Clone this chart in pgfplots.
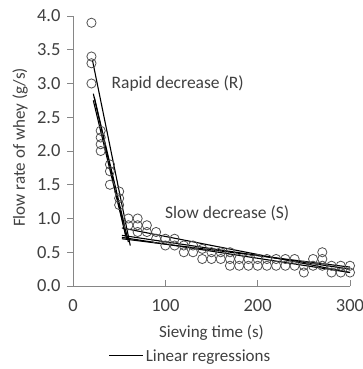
\documentclass[border=0pt]{standalone}
\usepackage{fontspec}
\setmainfont{Carlito}
\usepackage{pgfplots}
\pgfplotsset{compat=1.18}

\definecolor{axisgray}{RGB}{134,134,134}
\definecolor{txtgray}{RGB}{64,64,64}
\definecolor{circgray}{RGB}{80,80,80}

\begin{document}
\begin{tikzpicture}
\path[use as bounding box] (-73pt,-83pt) rectangle (290pt,286pt);
\begin{axis}[
    scale only axis,
    width=277pt,
    height=270pt,
    xmin=0, xmax=300,
    ymin=0, ymax=4,
    xtick={0,100,200,300},
    ytick={0,0.5,...,4.0},
    axis x line*=bottom,
    axis y line*=left,
    axis line style={axisgray, line width=0.8pt},
    x axis line style={-},
    y axis line style={-},
    tick style={axisgray, line width=0.8pt},
    xtick align=inside,
    ytick align=outside,
    major tick length=6pt,
    yticklabel style={/pgf/number format/fixed, /pgf/number format/fixed zerofill, /pgf/number format/precision=1, xshift=-3pt},
    xticklabel style={yshift=-10pt},
    /pgf/number format/assume math mode=true,
    tick label style={font=\fontsize{18.5}{22}\selectfont, text=txtgray},
    label style={font=\fontsize{17}{20}\selectfont, text=txtgray},
    xlabel={Sieving time (s)},
    ylabel={Flow rate of whey (g/s)},
    xlabel style={at={(axis description cs:0.5,-0.174)}, anchor=center},
    ylabel style={at={(axis description cs:-0.191,0.513)}, anchor=center},
    legend style={draw=none, at={(0.424,-0.259)}, anchor=center,
        font=\fontsize{17}{20}\selectfont, text=txtgray},
    legend image code/.code={\draw[#1] (-0.2cm,0cm) -- (1.0cm,0cm);},
    clip=false,
]

% measured flow rates (all runs)
\addplot[only marks, mark=o, mark size=4.6pt, circgray, mark options={line width=0.8pt}, forget plot] coordinates {
    (20,3.9) (20,3.4) (20,3.3) (20,3.0)
    (30,2.3) (30,2.2) (30,2.1) (30,2.0)
    (40,1.8) (40,1.7) (40,1.5)
    (50,1.4) (50,1.3) (50,1.2)
    (60,1.0) (60,0.9)
    (70,1.0) (70,0.9) (70,0.8)
    (80,0.9) (80,0.8)
    (90,0.8) (90,0.7)
    (100,0.7) (100,0.6)
    (110,0.7) (110,0.6)
    (120,0.6) (120,0.5)
    (130,0.6) (130,0.5)
    (140,0.55) (140,0.4)
    (150,0.5) (150,0.4)
    (160,0.4) (160,0.5)
    (170,0.5) (170,0.4) (170,0.3)
    (180,0.4) (180,0.3)
    (190,0.4) (190,0.3)
    (200,0.4) (200,0.3)
    (210,0.4) (210,0.3)
    (220,0.4) (220,0.3)
    (230,0.4) (230,0.3)
    (240,0.4) (240,0.3)
    (250,0.3) (250,0.2)
    (260,0.4) (260,0.3)
    (270,0.5) (270,0.4) (270,0.3)
    (280,0.3) (280,0.2)
    (290,0.3) (290,0.2)
    (300,0.3) (300,0.2)
};

% regressions, rapid phase
\addplot[black, line width=1.1pt, forget plot] coordinates {(21,3.35) (62,0.60)};
\addplot[black, line width=1.1pt, forget plot] coordinates {(22,2.85) (58,0.70)};
\addplot[black, line width=1.1pt, forget plot] coordinates {(23,2.80) (60,0.65)};
\addplot[black, line width=1.1pt, forget plot] coordinates {(22,2.75) (57,0.75)};
% regressions, slow phase
\addplot[black, line width=1.1pt, forget plot] coordinates {(53,0.86) (300,0.20)};
\addplot[black, line width=1.1pt, forget plot] coordinates {(53,0.75) (300,0.25)};
\addplot[black, line width=1.1pt, forget plot] coordinates {(53,0.72) (300,0.20)};
\addplot[black, line width=1.1pt, forget plot] coordinates {(53,0.70) (300,0.28)};

\addlegendimage{black, line width=0.9pt}
\addlegendentry{Linear regressions}

\node[anchor=west, text=txtgray, font=\fontsize{17.5}{20}\selectfont] at (axis cs:38,3.0) {Rapid decrease (R)};
\node[anchor=west, text=txtgray, font=\fontsize{17.5}{20}\selectfont] at (axis cs:96,1.08) {Slow decrease (S)};
\end{axis}
\end{tikzpicture}
\end{document}
